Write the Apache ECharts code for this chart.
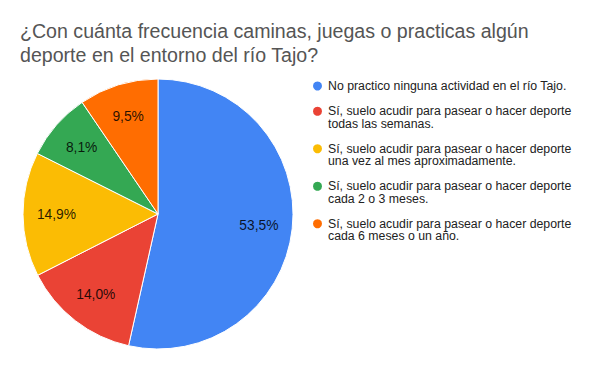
<!DOCTYPE html>
<html>
<head>
<meta charset="utf-8">
<script src="https://cdn.jsdelivr.net/npm/echarts@6/dist/echarts.min.js"></script>
<style>
html,body{margin:0;padding:0;background:#fff;}
#chart{width:592px;height:371px;}
</style>
</head>
<body>
<div id="chart"></div>
<script>
const titleText = "¿Con cuánta frecuencia caminas, juegas o practicas algún\ndeporte en el entorno del río Tajo?";
const categories = [
  "No practico ninguna actividad en el río Tajo.",
  "Sí, suelo acudir para pasear o hacer deporte todas las semanas.",
  "Sí, suelo acudir para pasear o hacer deporte una vez al mes aproximadamente.",
  "Sí, suelo acudir para pasear o hacer deporte cada 2 o 3 meses.",
  "Sí, suelo acudir para pasear o hacer deporte cada 6 meses o un año."
];
// legend text as wrapped in the picture
const legendLines = [
  ["No practico ninguna actividad en el río Tajo."],
  ["Sí, suelo acudir para pasear o hacer deporte", "todas las semanas."],
  ["Sí, suelo acudir para pasear o hacer deporte", "una vez al mes aproximadamente."],
  ["Sí, suelo acudir para pasear o hacer deporte", "cada 2 o 3 meses."],
  ["Sí, suelo acudir para pasear o hacer deporte", "cada 6 meses o un año."]
];
const values = [53.5, 14.0, 14.9, 8.1, 9.5];
const colors = ["#4285F4", "#EA4335", "#FBBC04", "#34A853", "#FF6D01"];

const FONT = 'Arial, "Liberation Sans", sans-serif';
const chart = echarts.init(document.getElementById('chart'), null, {renderer: 'svg'});

const pieData = categories.map((c, i) => ({name: c, value: values[i], itemStyle: {color: colors[i]}}));
const labelData = categories.map((c, i) => ({name: c, value: values[i]}));

chart.setOption({
  animation: false,
  backgroundColor: '#fff',
  title: {
    text: titleText,
    left: 20, top: 19, padding: 0,
    textStyle: {fontFamily: FONT, fontSize: 19.6, fontWeight: 'normal', color: '#555555', lineHeight: 24}
  },
  legend: {
    orient: 'vertical',
    left: 311, top: 79.5, padding: 0,
    itemGap: 0,
    itemWidth: 11, itemHeight: 11,
    icon: 'circle',
    textStyle: {fontFamily: FONT, fontSize: 12.3, color: '#222222', lineHeight: 12.5},
    formatter: name => {
      const lines = legendLines[categories.indexOf(name)];
      // a leading blank line keeps the dot level with the first line of two-line entries
      return lines.length > 1 ? '\n' + lines.join('\n') : lines[0];
    },
    data: categories.map((c, i) => ({name: c, itemStyle: {color: colors[i]}}))
  },
  series: [
    {
      type: 'pie',
      center: [158, 214],
      radius: [0, 135],
      startAngle: 90,
      clockwise: true,
      silent: true,
      label: {show: false},
      labelLine: {show: false},
      itemStyle: {borderColor: '#ffffff', borderWidth: 1},
      data: pieData
    },
    {
      type: 'pie',
      center: [158, 214],
      radius: [62, 135],
      startAngle: 90,
      clockwise: true,
      silent: true,
      itemStyle: {color: 'rgba(0,0,0,0)'},
      label: {
        show: true, position: 'inside',
        fontFamily: FONT, fontSize: 13.8, color: 'rgba(0,0,0,0.85)',
        formatter: p => p.value.toFixed(1).replace('.', ',') + '%'
      },
      labelLine: {show: false},
      emphasis: {disabled: true},
      data: labelData
    }
  ]
});
</script>
</body>
</html>
